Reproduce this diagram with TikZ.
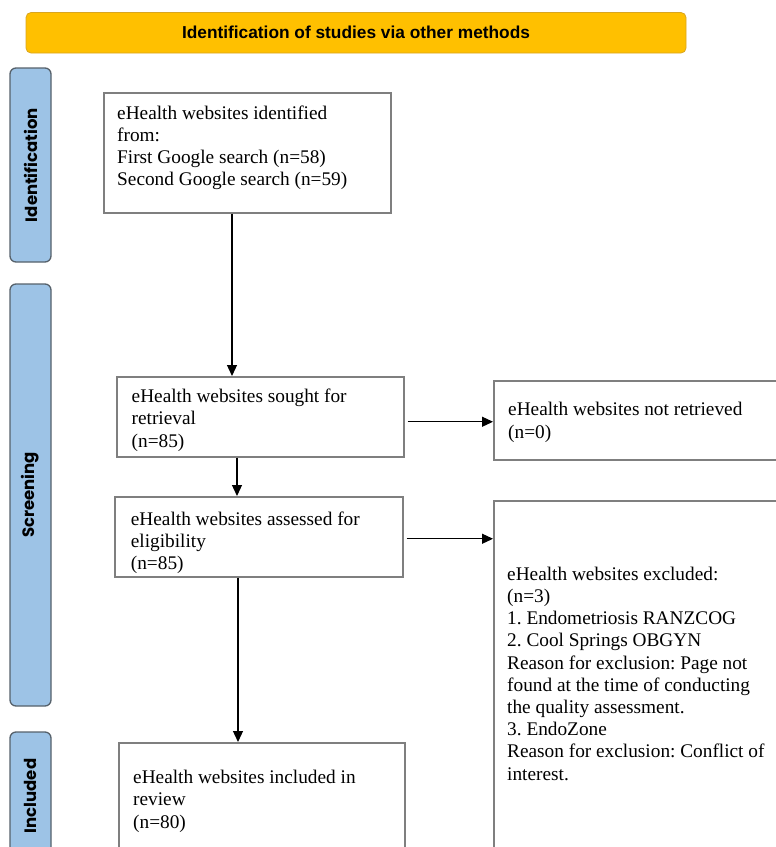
\documentclass[tikz,border=0pt]{standalone}
\usepackage{fontspec}
\setmainfont{Liberation Serif}
\newfontfamily\headfont{Liberation Sans}
\newfontfamily\sidefont{Poppins}
\usetikzlibrary{arrows.meta}
\definecolor{hdrfill}{HTML}{FFC000}
\definecolor{hdrline}{HTML}{D9A520}
\definecolor{sidefill}{HTML}{9DC3E6}
\definecolor{sideline}{HTML}{56616B}
\definecolor{boxline}{HTML}{7F7F7F}
\frenchspacing
\begin{document}
\begin{tikzpicture}[x=1pt,y=-1pt,
  stagebox/.style={draw=sideline, fill=sidefill, line width=1.3pt, rounded corners=6pt, minimum width=41pt, inner sep=0pt},
  stagelabel/.style={rotate=90, inner sep=0pt, font=\sidefont\bfseries\fontsize{16.5}{19}\selectfont},
  flowbox/.style={draw=boxline, line width=1.5pt, inner sep=0pt, anchor=north west},
  flowtext/.style={anchor=north west, align=left, inner sep=0pt, font=\frenchspacing\fontsize{19.3}{22.2}\selectfont, execute at begin node=\strut},
  arr/.style={line width=1.2pt, -{Triangle[length=11pt,width=10pt]}}]
\clip (0,0) rectangle (776,847);
% header
\node[draw=hdrline, fill=hdrfill, line width=0.8pt, rounded corners=5pt, minimum width=660pt, minimum height=40.5pt, font=\headfont\bfseries\fontsize{17.3}{20}\selectfont] (hdr) at (356,32.75) {Identification of studies via other methods};
% stage boxes
\node[stagebox, minimum height=194pt] (sid) at (30.5,165) {};
\node[stagelabel] (lid) at (sid.center) {Identification};
\node[stagebox, minimum height=422pt] (sscr) at (30.5,495) {};
\node[stagelabel] (lscr) at (sscr.center) {Screening};
\node[stagebox, minimum height=128pt] (sinc) at (30.5,796) {};
\node[stagelabel] (linc) at (sinc.center) {Included};
% flow boxes
\node[flowbox, minimum width=287pt, minimum height=120pt] (b1) at (103,92) {};
\node[flowbox, minimum width=287pt, minimum height=80pt] (b2) at (116,376) {};
\node[flowbox, minimum width=288pt, minimum height=80pt] (b3) at (114,496) {};
\node[flowbox, minimum width=286pt, minimum height=130pt] (b4) at (118,742) {};
\node[flowbox, minimum width=320pt, minimum height=79pt] (r1) at (493,380) {};
\node[flowbox, minimum width=320pt, minimum height=380pt] (r2) at (493,500) {};
% texts
\node[flowtext] (t1) at (117,105.5) {eHealth websites identified\\from:\\First Google search (n=58)\\Second Google search (n=59)};
\node[flowtext] (t2) at (131.5,389) {eHealth websites sought for\\retrieval\\(n=85)};
\node[flowtext] (t3) at (130.7,511.5) {eHealth websites assessed for\\eligibility\\(n=85)};
\node[flowtext] (t4) at (133,770) {eHealth websites included in\\review\\(n=80)};
\node[flowtext] (t5) at (508,402.3) {eHealth websites not retrieved\\(n=0)};
\node[flowtext] (t6) at (507,566.6) {eHealth websites excluded:\\(n=3)\\1. Endometriosis RANZCOG\\2. Cool Springs OBGYN\\Reason for exclusion: Page not\\found at the time of conducting\\the quality assessment.\\3. EndoZone\\Reason for exclusion: Conflict of\\interest.};
% connectors
\coordinate (a1) at ([xshift=129pt]b1.south west);
\draw[arr] (a1) -- (a1 |- b2.north);
\coordinate (a2) at ([xshift=121pt]b2.south west);
\draw[arr] (a2) -- (a2 |- b3.north);
\coordinate (a3) at ([xshift=124pt]b3.south west);
\draw[arr] (a3) -- (a3 |- b4.north);
\coordinate (h1) at ([xshift=3pt,yshift=-5pt]b2.east);
\draw[arr] (h1) -- (h1 -| r1.west);
\coordinate (h2) at ([xshift=3pt,yshift=-2pt]b3.east);
\draw[arr] (h2) -- (h2 -| r2.west);
\end{tikzpicture}
\end{document}
